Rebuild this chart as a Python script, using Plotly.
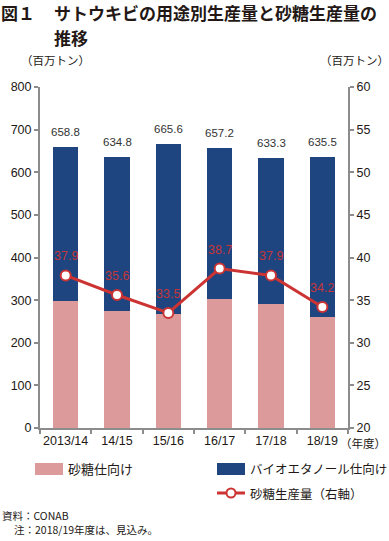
import plotly.graph_objects as go

# ---- data ----
categories = ["2013/14", "14/15", "15/16", "16/17", "17/18", "18/19"]
totals = [658.8, 634.8, 665.6, 657.2, 633.3, 635.5]
sugar_use = [298, 274, 268, 302, 290, 260]
ethanol_use = [360.8, 360.8, 397.6, 355.2, 343.3, 375.5]
sugar_prod = [37.9, 35.6, 33.5, 38.7, 37.9, 34.2]

left_ticks = list(range(0, 801, 100))
right_ticks = list(range(20, 61, 5))

# ---- styles ----
PINK = "#dc9a9a"
BLUE = "#1e4580"
RED = "#cc3333"
RED_TXT = "#c4363a"
AXIS = "#8c8c8c"
TXT = "#231815"
NUM_FONT = "Liberation Sans, Noto Sans CJK JP"
JP_FONT = "Noto Sans CJK JP, Liberation Sans"

W, H = 389, 541
L, R, T, B = 40, 348, 87, 428


def px(x):
    return (x - L) / (R - L)


def py(y):
    return (B - y) / (B - T)


fig = go.Figure()
fig.add_trace(go.Bar(x=categories, y=sugar_use, marker=dict(color=PINK, line=dict(width=0)),
                     name="砂糖仕向け", yaxis="y"))
fig.add_trace(go.Bar(x=categories, y=ethanol_use, marker=dict(color=BLUE, line=dict(width=0)),
                     name="バイオエタノール仕向け", yaxis="y"))
fig.add_trace(go.Scatter(x=categories, y=sugar_prod, mode="lines+markers", yaxis="y2",
                         line=dict(color=RED, width=3),
                         marker=dict(size=10, color="white", line=dict(color=RED, width=2)),
                         name="砂糖生産量（右軸）"))

annotations = []
# bar totals
for c, t in zip(categories, totals):
    annotations.append(dict(x=c, y=t, xref="x", yref="y", text=f"{t:.1f}", showarrow=False,
                            yshift=15, yanchor="middle",
                            font=dict(size=11.5, color="#333333", family=NUM_FONT)))
# line labels
for c, v in zip(categories, sugar_prod):
    annotations.append(dict(x=c, y=v, xref="x", yref="y2", text=f"{v:.1f}", showarrow=False,
                            yshift=19, yanchor="middle",
                            font=dict(size=12.5, color=RED_TXT, family=NUM_FONT)))


def txt(x, y, s, size=12, anchor="left", family=JP_FONT, color=TXT, pad=1, yanchor="middle"):
    annotations.append(dict(x=px(x), y=py(y), xref="paper", yref="paper", text=s, showarrow=False,
                            xanchor=anchor, yanchor=yanchor, align="left", borderpad=pad,
                            font=dict(size=size, color=color, family=family)))


# title
txt(0, 12.6, "<b>図１</b>", size=17, pad=0)
txt(53, 12.6, "<b>サトウキビの用途別生産量と砂糖生産量の</b>", size=17, pad=0)
txt(53, 37.2, "<b>推移</b>", size=17, pad=0)
# unit labels
txt(19, 60, "（百万トン）", size=11.5)
txt(318, 60, "（百万トン）", size=11.5)
# x unit
txt(338, 443, "（年度）", size=11.5)
# legend
txt(66, 469, "砂糖仕向け", size=13)
txt(248, 469, "バイオエタノール仕向け", size=12.5)
txt(248, 493, "砂糖生産量（右軸）", size=12.5)
# notes
txt(0, 515, "資料：CONAB", size=10.5)
txt(12, 529, "注：2018/19年度は、見込み。", size=10.5)

shapes = [
    dict(type="rect", xref="paper", yref="paper", x0=px(35), x1=px(63), y0=py(475), y1=py(463),
         fillcolor=PINK, line=dict(width=0)),
    dict(type="rect", xref="paper", yref="paper", x0=px(217), x1=px(245), y0=py(475), y1=py(463),
         fillcolor=BLUE, line=dict(width=0)),
    dict(type="line", xref="paper", yref="paper", x0=px(217), x1=px(245), y0=py(493), y1=py(493),
         line=dict(color=RED, width=3)),
    dict(type="circle", xref="paper", yref="paper", x0=px(226.5), x1=px(235.5), y0=py(497.5),
         y1=py(488.5), fillcolor="white", line=dict(color=RED, width=2)),
]

fig.update_layout(
    width=W, height=H,
    margin=dict(l=L, r=W - R, t=T, b=H - B, pad=0),
    paper_bgcolor="white", plot_bgcolor="white",
    barmode="stack", bargap=0.51,
    showlegend=False,
    font=dict(family=NUM_FONT, color=TXT, size=12.5),
    xaxis=dict(type="category", showline=True, linecolor=AXIS, linewidth=2,
               ticks="outside", tickson="boundaries", ticklen=4, tickcolor=AXIS, tickwidth=1.5,
               showgrid=False, tickangle=0, tickfont=dict(size=12.5, color=TXT)),
    yaxis=dict(range=[0, 800], tickvals=left_ticks, showline=True, linecolor=AXIS, linewidth=2,
               ticks="outside", ticklen=4, tickcolor=AXIS, tickwidth=1.5, showgrid=False,
               zeroline=False, tickfont=dict(size=12.5, color=TXT)),
    yaxis2=dict(range=[20, 60], tickvals=right_ticks, overlaying="y", side="right",
                showline=True, linecolor=AXIS, linewidth=2, ticks="outside", ticklen=4,
                tickcolor=AXIS, tickwidth=1.5, showgrid=False, zeroline=False,
                tickfont=dict(size=12.5, color=TXT)),
    annotations=annotations,
    shapes=shapes,
)

fig.write_html("out.html", config={"displayModeBar": False},
               post_script="document.body.style.margin='0';document.body.style.overflow='hidden';")
